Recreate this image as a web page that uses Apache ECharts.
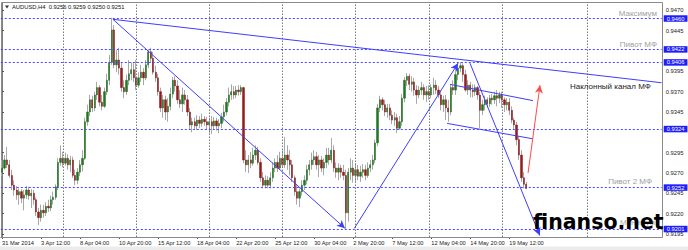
<!DOCTYPE html>
<html><head><meta charset="utf-8">
<script src="https://cdn.jsdelivr.net/npm/echarts@6/dist/echarts.min.js"></script>
<style>html,body{margin:0;padding:0;background:#fff}#c{width:688px;height:250px}</style>
</head><body><div id="c"></div>
<script>
// AUDUSD H4 candles, prices in pips (x 0.0001)
const openPips = [
9271,9276,9286,9280,9267,9255,9249,9243,9247,9239,9243,9249,9242,9245,9237,9222,9215,9224,9221,9229,
9227,9237,9240,9253,9283,9288,9282,9288,9280,9286,9267,9261,9271,9280,9288,9333,9345,9360,9350,9366,
9375,9357,9352,9370,9384,9406,9446,9403,9409,9399,9375,9370,9384,9392,9397,9387,9378,9387,9394,9387,
9403,9419,9411,9394,9387,9370,9350,9360,9345,9352,9367,9384,9377,9360,9355,9366,9360,9345,9329,9333,
9328,9335,9331,9336,9333,9329,9333,9328,9334,9328,9331,9339,9345,9357,9366,9370,9366,9372,9370,9375,
9286,9280,9286,9282,9292,9298,9283,9264,9255,9261,9255,9264,9276,9283,9276,9288,9280,9292,9286,9280,
9264,9247,9239,9247,9255,9261,9274,9280,9286,9290,9280,9286,9276,9283,9292,9286,9298,9276,9271,9276,
9271,9267,9221,9271,9276,9267,9274,9266,9271,9274,9267,9276,9280,9286,9307,9350,9360,9354,9345,9350,
9341,9335,9338,9325,9333,9362,9384,9389,9379,9382,9372,9366,9372,9375,9366,9370,9366,9375,9378,9372,
9366,9354,9360,9350,9345,9375,9372,9391,9399,9402,9391,9372,9378,9372,9370,9375,9366,9347,9354,9360,
9355,9362,9360,9365,9362,9366,9360,9354,9357,9347,9335,9329,9311,9292,9264,9256];
const highPips = [
9286,9292,9302,9286,9274,9261,9254,9251,9250,9249,9254,9253,9250,9249,9240,9227,9231,9231,9234,9237,
9242,9247,9256,9288,9304,9296,9295,9293,9291,9290,9274,9276,9286,9298,9338,9354,9366,9365,9370,9382,
9378,9366,9375,9392,9415,9461,9452,9421,9424,9406,9384,9391,9409,9406,9405,9409,9394,9403,9399,9409,
9422,9424,9419,9402,9392,9375,9366,9365,9362,9375,9388,9389,9384,9372,9375,9372,9366,9350,9338,9338,
9341,9340,9343,9340,9339,9338,9340,9339,9338,9336,9344,9354,9362,9375,9379,9377,9377,9378,9378,9376,
9298,9292,9296,9301,9304,9302,9288,9271,9267,9266,9271,9283,9288,9292,9296,9298,9314,9304,9298,9286,
9267,9255,9251,9261,9267,9280,9286,9295,9298,9296,9292,9291,9288,9301,9301,9313,9304,9283,9282,9280,
9280,9274,9276,9288,9286,9282,9280,9279,9281,9280,9283,9286,9292,9311,9355,9365,9363,9360,9355,9355,
9347,9345,9343,9340,9367,9388,9393,9392,9389,9387,9378,9377,9382,9379,9377,9378,9379,9387,9384,9377,
9372,9365,9366,9360,9379,9384,9397,9405,9406,9405,9397,9384,9382,9379,9379,9377,9370,9360,9365,9363,
9366,9367,9370,9372,9370,9370,9363,9362,9362,9352,9338,9333,9315,9298,9271,9259];
const lowPips = [
9266,9274,9276,9264,9249,9242,9237,9231,9233,9224,9238,9237,9227,9231,9217,9206,9210,9215,9217,9222,
9223,9231,9237,9249,9279,9277,9279,9274,9271,9264,9255,9256,9266,9272,9286,9328,9340,9345,9346,9360,
9352,9347,9350,9366,9378,9403,9399,9394,9391,9370,9362,9366,9378,9384,9382,9372,9375,9382,9378,9384,
9399,9406,9391,9382,9365,9345,9338,9335,9333,9347,9362,9370,9355,9350,9345,9354,9340,9323,9320,9323,
9323,9325,9327,9328,9323,9319,9318,9324,9322,9319,9325,9333,9341,9352,9360,9361,9362,9365,9366,9282,
9271,9270,9276,9279,9286,9280,9259,9251,9251,9251,9251,9259,9271,9271,9274,9276,9276,9274,9267,9259,
9242,9231,9228,9242,9249,9256,9267,9274,9280,9274,9265,9271,9267,9276,9280,9282,9271,9264,9261,9264,
9261,9201,9210,9261,9258,9259,9261,9259,9264,9261,9264,9271,9274,9282,9303,9345,9347,9340,9338,9335,
9330,9328,9319,9323,9328,9357,9377,9372,9370,9365,9355,9362,9366,9360,9357,9360,9362,9366,9367,9362,
9347,9345,9335,9333,9341,9366,9366,9384,9394,9382,9370,9366,9363,9363,9365,9360,9325,9341,9347,9350,
9351,9354,9355,9352,9356,9350,9345,9347,9341,9331,9323,9304,9286,9259,9251,9250];
const closePips = [
9276,9286,9280,9267,9255,9249,9243,9247,9239,9243,9249,9242,9245,9237,9222,9215,9224,9221,9229,9227,
9237,9240,9253,9283,9288,9282,9288,9280,9286,9267,9261,9271,9280,9288,9333,9345,9360,9350,9366,9375,
9357,9352,9370,9384,9406,9446,9403,9409,9399,9375,9370,9384,9392,9397,9387,9378,9387,9394,9387,9403,
9419,9411,9394,9387,9370,9350,9360,9345,9352,9367,9384,9377,9360,9355,9366,9360,9345,9329,9333,9328,
9335,9331,9336,9333,9329,9333,9328,9334,9328,9331,9339,9345,9357,9366,9370,9366,9372,9370,9375,9286,
9280,9286,9282,9292,9298,9283,9264,9255,9261,9255,9264,9276,9283,9276,9288,9280,9292,9286,9280,9264,
9247,9239,9247,9255,9261,9274,9280,9286,9290,9280,9286,9276,9283,9292,9286,9298,9276,9271,9276,9271,
9267,9221,9271,9276,9267,9274,9266,9271,9274,9267,9276,9280,9286,9307,9350,9360,9354,9345,9350,9341,
9335,9338,9325,9333,9362,9384,9389,9379,9382,9372,9366,9372,9375,9366,9370,9366,9375,9378,9372,9366,
9354,9360,9350,9345,9375,9372,9391,9399,9402,9391,9372,9378,9372,9370,9375,9366,9347,9354,9360,9355,
9362,9360,9365,9362,9366,9360,9354,9357,9347,9335,9329,9311,9292,9264,9256,9251];

const xLabelBars = [0,16,32,48,64,80,96,112,128,144,160,176,192,208];
const xLabels = ['31 Mar 2014','3 Apr 12:00','8 Apr 04:00','10 Apr 20:00','15 Apr 12:00','18 Apr 04:00','22 Apr 20:00','25 Apr 12:00','30 Apr 04:00','2 May 20:00','7 May 12:00','12 May 04:00','14 May 20:00','19 May 12:00'];
// price scale labels visible in the picture (0.9420 and 0.9320 are hidden under the level boxes)
const yTickValues = [0.9470,0.9445,0.9395,0.9370,0.9345,0.9295,0.9270,0.9245,0.9220,0.9195];
const levelValues = [0.9460,0.9422,0.9406,0.9324,0.9252,0.9201];
const gridBars = [25,55,85,115,145,175,205,240];
const slotCount = 271;
// annotation segments: [barIndex, price]
const channelTop = [[45.5,0.9459],[270.4,0.9381]];
const fallArrow = [[45.5,0.9459],[140.6,0.9202]];
const riseArrow = [[144.5,0.9202],[187.0,0.9405]];
const fall2Arrow = [[191.9,0.9405],[220.5,0.9193]];
const channelUpper = [[183.7,0.9379],[217.7,0.9359]];
const channelLower = [[182.5,0.9331],[217.7,0.9312]];
const redArrow = [[215.7,0.9270],[220.6,0.9378]];

const toP = v => v / 10000;
const categories = Array.from({length: slotCount}, (_, i) => String(i));
const labelMap = {};
xLabelBars.forEach((b, k) => { labelMap[b] = xLabels[k]; });
const labelSet = new Set(xLabelBars);
const wickData = openPips.map((o, i) => [toP(o), toP(closePips[i]), toP(lowPips[i]), toP(highPips[i])]);
const bodyData = openPips.map((o, i) => { const c = closePips[i]; return [toP(o), toP(c), toP(Math.min(o, c)), toP(Math.max(o, c))]; });
const last = openPips.length - 1;
const headerText = 'AUDUSD,H4  ' + [openPips[last], highPips[last], lowPips[last], closePips[last]].map(v => toP(v).toFixed(4)).join(' ');

const FONT = 'Liberation Sans';
const blue = '#3d3dff';
const seg = (s, arrow, color) => [
  {coord: s[0], symbol: 'none', lineStyle: {color: color, width: 1, type: 'solid'}},
  {coord: s[1], symbol: arrow ? 'arrow' : 'none', symbolSize: [6, 8]}
];

const chart = echarts.init(document.getElementById('c'), null, {renderer: 'svg'});
chart.setOption({
  animation: false,
  backgroundColor: '#fff',
  textStyle: {fontFamily: FONT},
  grid: {left: 0.8, right: 26.3, top: 3, bottom: 13, containLabel: false, outerBoundsMode: 'none'},
  xAxis: [
    {type: 'category', data: categories, boundaryGap: true,
     axisLine: {show: true, lineStyle: {color: '#808080', width: 1}},
     axisTick: {show: true, interval: (i) => labelSet.has(i), alignWithLabel: true, length: 2, lineStyle: {color: '#555'}},
     axisLabel: {show: true, interval: (i) => labelSet.has(i), formatter: (v) => labelMap[+v] || '', align: 'left',
                 fontSize: 5.7, color: '#222', margin: 3, fontFamily: FONT},
     splitLine: {show: false}},
    {type: 'value', min: -0.5, max: slotCount - 0.5, show: false}
  ],
  yAxis: {type: 'value', position: 'right', min: 0.91912, max: 0.94791,
    axisLine: {show: true, lineStyle: {color: '#808080', width: 1}},
    axisTick: {show: true, customValues: yTickValues, length: 2, lineStyle: {color: '#555'}},
    axisLabel: {show: true, customValues: yTickValues, formatter: v => v.toFixed(4), fontSize: 5.8, color: '#222', margin: 4, fontFamily: FONT},
    splitLine: {show: false}},
  series: [
    {type: 'line', xAxisIndex: 1, yAxisIndex: 0, data: [], silent: true, z: 1,
     markLine: {silent: true, animation: false, symbol: ['none', 'none'], precision: 6, label: {show: false},
       lineStyle: {color: '#7a7a7a', type: [1.5, 1.5], width: 1},
       data: gridBars.map(b => ({xAxis: b}))}},
    {type: 'candlestick', xAxisIndex: 0, yAxisIndex: 0, data: wickData, barWidth: 1, silent: true, z: 2,
     itemStyle: {color: '#a8a8a8', color0: '#a8a8a8', borderColor: '#a8a8a8', borderColor0: '#a8a8a8', borderColorDoji: '#a8a8a8', borderWidth: 1}},
    {type: 'candlestick', xAxisIndex: 0, yAxisIndex: 0, data: bodyData, barWidth: 1.8, silent: true, z: 3,
     itemStyle: {color: '#1e7a1e', color0: '#961c1c', borderColor: '#1e6a1e', borderColor0: '#861818', borderColorDoji: '#555', borderWidth: 0.5}},
    {type: 'line', xAxisIndex: 1, yAxisIndex: 0, data: [], silent: true, z: 4,
     markLine: {silent: true, animation: false, symbol: ['none', 'none'], precision: 6,
       lineStyle: {color: '#4646ff', type: [2, 2], width: 1},
       label: {show: true, position: 'end', distance: 2, formatter: p => Number(p.value).toFixed(4), color: '#fff',
               backgroundColor: '#1e1eff', fontSize: 5.8, lineHeight: 6, padding: [0.5, 3, 0, 3], fontFamily: FONT},
       data: levelValues.map(v => ({yAxis: v}))}},
    {type: 'line', xAxisIndex: 1, yAxisIndex: 0, data: [], silent: true, z: 5,
     markLine: {silent: true, animation: false, symbol: ['none', 'none'], precision: 6, label: {show: false},
       data: [
         seg(channelTop, false, blue),
         seg(fallArrow, true, blue),
         seg(riseArrow, true, blue),
         seg(fall2Arrow, true, blue),
         seg(channelUpper, false, blue),
         seg(channelLower, false, blue),
         seg(redArrow, true, '#ff4a4a')
       ]}}
  ],
  graphic: [
    {type: 'rect', silent: true, z: 0, shape: {x: 0, y: 246.5, width: 688, height: 3.5}, style: {fill: '#ececec'}},
    {type: 'rect', silent: true, z: 1, shape: {x: 1.5, y: 2.5, width: 661, height: 235}, style: {fill: 'none', stroke: '#8a8a8a', lineWidth: 1}},
    {type: 'polygon', silent: true, z: 60, shape: {points: [[5, 5.5], [9, 5.5], [7, 8.5]]}, style: {fill: '#333'}},
    {type: 'text', silent: true, z: 60, x: 12, y: 7, style: {text: headerText, font: '5.8px "' + FONT + '"', fill: '#111', verticalAlign: 'middle'}},
    {type: 'text', silent: true, z: 60, x: 657, y: 13.5, style: {text: 'Максимум', font: '8px "' + FONT + '"', fill: '#a0a0a0', align: 'right', verticalAlign: 'middle'}},
    {type: 'text', silent: true, z: 60, x: 657, y: 44, style: {text: 'Пивот МФ', font: '8px "' + FONT + '"', fill: '#a0a0a0', align: 'right', verticalAlign: 'middle'}},
    {type: 'text', silent: true, z: 60, x: 570, y: 86, style: {text: 'Наклонный канал МФ', font: '8px "' + FONT + '"', fill: '#222', align: 'left', verticalAlign: 'middle'}},
    {type: 'text', silent: true, z: 60, x: 652, y: 181, style: {text: 'Пивот 2 МФ', font: '8px "' + FONT + '"', fill: '#a0a0a0', align: 'right', verticalAlign: 'middle'}},
    {type: 'text', silent: true, z: 60, x: 655, y: 222, style: {text: 'Минимум', font: '8px "' + FONT + '"', fill: '#b0b0b0', align: 'right', verticalAlign: 'middle'}},
    {type: 'text', silent: true, z: 100, x: 533, y: 222, style: {text: 'finanso.net', font: 'bold 20.5px "DejaVu Sans"', fill: '#000', align: 'left', verticalAlign: 'middle'}}
  ]
});
</script>
</body></html>
